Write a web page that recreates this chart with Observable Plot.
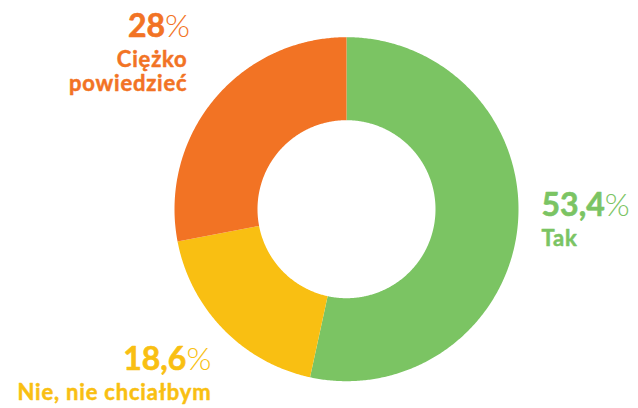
<!DOCTYPE html>
<html><head><meta charset="utf-8">
<script src="https://cdn.jsdelivr.net/npm/d3@7"></script>
<script src="https://cdn.jsdelivr.net/npm/@observablehq/plot@0.6"></script>
<style>
html,body{margin:0;padding:0;background:#fff;}
#chart{width:638px;height:408px;overflow:hidden;}
</style></head><body><div id="chart"></div>
<script>
// ---- data ----
const categories = ["Tak", "Nie, nie chciałbym", "Ciężko\npowiedzieć"];
const values = [53.4, 18.6, 28];
const valueLabels = ["53,4%", "18,6%", "28%"];
// ---- styles ----
const colors = ["#7BC463", "#F9BF12", "#F27324"];
const labelOffsets = [
  {dx: 24, dy: -12, numDx: 0, anchor: "start"},
  {dx: -12, dy: 41, numDx: 0, anchor: "end"},
  {dx: -26.5, dy: -63, numDx: 2.5, anchor: "end"}
];

const W = 638, H = 408;
const cx = 346, cy = 208.7, R = 172, r = 89;
const innerRatio = r / R;

const pie = d3.pie().sort(null).value(d => d.value);
const slices = pie(categories.map((c, i) => ({category: c, value: values[i], label: valueLabels[i], i})));

const ring = [];
for (const s of slices) {
  const span = s.endAngle - s.startAngle;
  const n = Math.max(8, Math.ceil(span / (Math.PI / 360)));
  for (let k = 0; k <= n; k++) {
    const a = s.startAngle + span * k / n;
    ring.push({category: s.data.category, x: Math.sin(a), y: Math.cos(a)});
  }
  for (let k = n; k >= 0; k--) {
    const a = s.startAngle + span * k / n;
    ring.push({category: s.data.category, x: innerRatio * Math.sin(a), y: innerRatio * Math.cos(a)});
  }
}

const labelMarks = [];
for (const s of slices) {
  const mid = (s.startAngle + s.endAngle) / 2;
  const o = labelOffsets[s.data.i];
  const pt = [{x: Math.sin(mid), y: Math.cos(mid), s}];
  const lines = s.data.category.split("\n").length;
  const col = colors[s.data.i];
  labelMarks.push(Plot.text(pt, {
    x: "x", y: "y", text: () => s.data.label,
    dx: o.dx + o.numDx, dy: o.dy, textAnchor: o.anchor, lineAnchor: "bottom",
    fontSize: 32, fontWeight: 700, fill: col, stroke: col, strokeWidth: 0.6, fontFamily: "Lato"
  }));
  labelMarks.push(Plot.text(pt, {
    x: "x", y: "y", text: () => s.data.category,
    dx: o.dx, dy: o.dy + 30 + (lines - 1) * 24, textAnchor: o.anchor, lineAnchor: "bottom",
    lineHeight: 24 / 22,
    fontSize: 22, fontWeight: 700, fill: col, stroke: col, strokeWidth: 0.5, fontFamily: "Lato"
  }));
}

const svg = Plot.plot({
  width: W, height: H,
  margin: 0,
  style: {fontFamily: "Lato", background: "#fff"},
  x: {domain: [-1, 1], range: [cx - R, cx + R], axis: null},
  y: {domain: [-1, 1], range: [cy + R, cy - R], axis: null},
  color: {domain: categories, range: colors, legend: false},
  marks: [
    Plot.line(ring, {x: "x", y: "y", z: "category", fill: "category", stroke: "none"}),
    ...labelMarks
  ]
});

// light-weight percent sign; wider spacing for category names
d3.select(svg).selectAll("text").each(function () {
  const t = this.textContent;
  if (/%$/.test(t) && this.childElementCount === 0) {
    this.textContent = "";
    const ns = "http://www.w3.org/2000/svg";
    const a = document.createElementNS(ns, "tspan");
    a.textContent = t.slice(0, -1);
    const b = document.createElementNS(ns, "tspan");
    b.textContent = "%";
    b.setAttribute("font-weight", "300");
    b.setAttribute("stroke", "none");
    this.appendChild(a); this.appendChild(b);
  } else if (!/%/.test(t)) {
    this.setAttribute("letter-spacing", "0.8");
  }
});

document.getElementById("chart").appendChild(svg);
</script>
</body></html>
